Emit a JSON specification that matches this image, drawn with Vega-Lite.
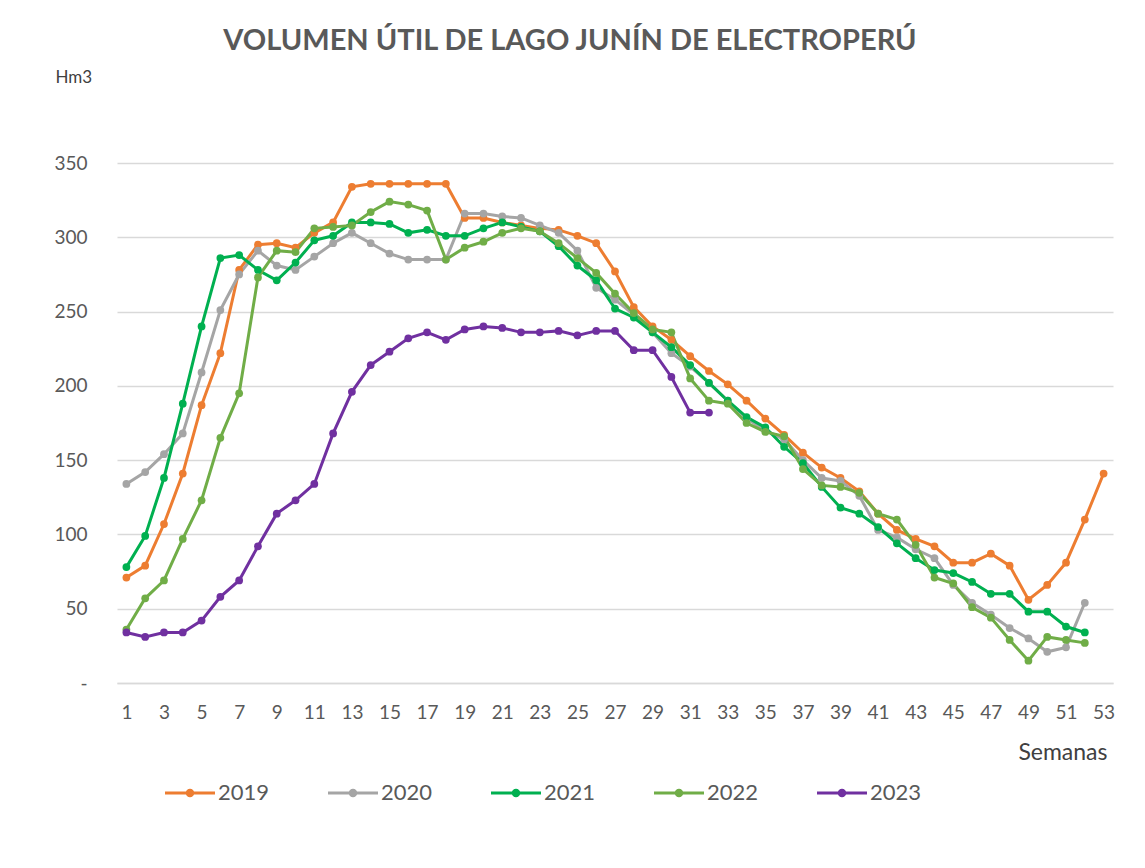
{
  "$schema": "https://vega.github.io/schema/vega-lite/v6.json",
  "width": 996,
  "height": 520,
  "autosize": {"type": "none"},
  "padding": {"left": 117, "top": 163, "right": 32, "bottom": 185},
  "background": "#ffffff",
  "title": {
    "text": "VOLUMEN  ÚTIL DE LAGO JUNÍN DE ELECTROPERÚ",
    "font": "Lato",
    "fontSize": 29,
    "fontWeight": "bold",
    "color": "#595959",
    "anchor": "middle",
    "frame": "group",
    "offset": 12,
    "dx": -45
  },
  "data": {
    "values": [
      {"w": 1, "2019": 71, "2020": 134, "2021": 78, "2022": 36, "2023": 34},
      {"w": 2, "2019": 79, "2020": 142, "2021": 99, "2022": 57, "2023": 31},
      {"w": 3, "2019": 107, "2020": 154, "2021": 138, "2022": 69, "2023": 34},
      {"w": 4, "2019": 141, "2020": 168, "2021": 188, "2022": 97, "2023": 34},
      {"w": 5, "2019": 187, "2020": 209, "2021": 240, "2022": 123, "2023": 42},
      {"w": 6, "2019": 222, "2020": 251, "2021": 286, "2022": 165, "2023": 58},
      {"w": 7, "2019": 278, "2020": 275, "2021": 288, "2022": 195, "2023": 69},
      {"w": 8, "2019": 295, "2020": 291, "2021": 278, "2022": 273, "2023": 92},
      {"w": 9, "2019": 296, "2020": 281, "2021": 271, "2022": 291, "2023": 114},
      {"w": 10, "2019": 293, "2020": 278, "2021": 283, "2022": 290, "2023": 123},
      {"w": 11, "2019": 303, "2020": 287, "2021": 298, "2022": 306, "2023": 134},
      {"w": 12, "2019": 310, "2020": 296, "2021": 301, "2022": 307, "2023": 168},
      {"w": 13, "2019": 334, "2020": 303, "2021": 310, "2022": 308, "2023": 196},
      {"w": 14, "2019": 336, "2020": 296, "2021": 310, "2022": 317, "2023": 214},
      {"w": 15, "2019": 336, "2020": 289, "2021": 309, "2022": 324, "2023": 223},
      {"w": 16, "2019": 336, "2020": 285, "2021": 303, "2022": 322, "2023": 232},
      {"w": 17, "2019": 336, "2020": 285, "2021": 305, "2022": 318, "2023": 236},
      {"w": 18, "2019": 336, "2020": 285, "2021": 301, "2022": 285, "2023": 231},
      {"w": 19, "2019": 313, "2020": 316, "2021": 301, "2022": 293, "2023": 238},
      {"w": 20, "2019": 313, "2020": 316, "2021": 306, "2022": 297, "2023": 240},
      {"w": 21, "2019": 310, "2020": 314, "2021": 310, "2022": 303, "2023": 239},
      {"w": 22, "2019": 308, "2020": 313, "2021": 307, "2022": 306, "2023": 236},
      {"w": 23, "2019": 306, "2020": 308, "2021": 304, "2022": 304, "2023": 236},
      {"w": 24, "2019": 305, "2020": 303, "2021": 294, "2022": 296, "2023": 237},
      {"w": 25, "2019": 301, "2020": 291, "2021": 281, "2022": 286, "2023": 234},
      {"w": 26, "2019": 296, "2020": 266, "2021": 271, "2022": 276, "2023": 237},
      {"w": 27, "2019": 277, "2020": 258, "2021": 252, "2022": 262, "2023": 237},
      {"w": 28, "2019": 253, "2020": 248, "2021": 246, "2022": 249, "2023": 224},
      {"w": 29, "2019": 240, "2020": 236, "2021": 236, "2022": 238, "2023": 224},
      {"w": 30, "2019": 231, "2020": 222, "2021": 226, "2022": 236, "2023": 206},
      {"w": 31, "2019": 220, "2020": 213, "2021": 214, "2022": 205, "2023": 182},
      {"w": 32, "2019": 210, "2020": 202, "2021": 202, "2022": 190, "2023": 182},
      {"w": 33, "2019": 201, "2020": 190, "2021": 190, "2022": 188},
      {"w": 34, "2019": 190, "2020": 178, "2021": 179, "2022": 175},
      {"w": 35, "2019": 178, "2020": 170, "2021": 172, "2022": 169},
      {"w": 36, "2019": 167, "2020": 164, "2021": 159, "2022": 166},
      {"w": 37, "2019": 155, "2020": 150, "2021": 148, "2022": 144},
      {"w": 38, "2019": 145, "2020": 138, "2021": 132, "2022": 133},
      {"w": 39, "2019": 138, "2020": 136, "2021": 118, "2022": 132},
      {"w": 40, "2019": 129, "2020": 126, "2021": 114, "2022": 128},
      {"w": 41, "2019": 114, "2020": 103, "2021": 105, "2022": 114},
      {"w": 42, "2019": 103, "2020": 98, "2021": 94, "2022": 110},
      {"w": 43, "2019": 97, "2020": 90, "2021": 84, "2022": 93},
      {"w": 44, "2019": 92, "2020": 84, "2021": 76, "2022": 71},
      {"w": 45, "2019": 81, "2020": 66, "2021": 74, "2022": 67},
      {"w": 46, "2019": 81, "2020": 54, "2021": 68, "2022": 51},
      {"w": 47, "2019": 87, "2020": 46, "2021": 60, "2022": 44},
      {"w": 48, "2019": 79, "2020": 37, "2021": 60, "2022": 29},
      {"w": 49, "2019": 56, "2020": 30, "2021": 48, "2022": 15},
      {"w": 50, "2019": 66, "2020": 21, "2021": 48, "2022": 31},
      {"w": 51, "2019": 81, "2020": 24, "2021": 38, "2022": 29},
      {"w": 52, "2019": 110, "2020": 54, "2021": 34, "2022": 27},
      {"w": 53, "2019": 141}
    ]
  },
  "transform": [
    {"fold": ["2019", "2020", "2021", "2022", "2023"], "as": ["year", "v"]},
    {"filter": "isValid(datum.v)"}
  ],
  "mark": {
    "type": "line",
    "strokeWidth": 3,
    "point": {"filled": true, "size": 60}
  },
  "encoding": {
    "x": {
      "field": "w",
      "type": "quantitative",
      "scale": {"domain": [0.5, 53.5], "nice": false, "zero": false},
      "axis": {
        "title": "Semanas",
        "titleFont": "Lato",
        "titleFontSize": 23,
        "titleFontWeight": "normal",
        "titleColor": "#404040",
        "titleAlign": "right",
        "titleBaseline": "middle",
        "titleAnchor": null,
        "titleX": 990,
        "titleY": 69,
        "values": [1,3,5,7,9,11,13,15,17,19,21,23,25,27,29,31,33,35,37,39,41,43,45,47,49,51,53],
        "labelFont": "Lato",
        "labelFontSize": 19,
        "labelColor": "#595959",
        "labelPadding": 20,
        "labelOverlap": false,
        "labelFlush": false,
        "ticks": false,
        "grid": false,
        "domainColor": "#d9d9d9",
        "domainWidth": 1.5
      }
    },
    "y": {
      "field": "v",
      "type": "quantitative",
      "scale": {"domain": [0, 350], "nice": false},
      "axis": {
        "title": "Hm3",
        "titleFont": "Lato",
        "titleFontSize": 17,
        "titleFontWeight": "normal",
        "titleColor": "#404040",
        "titleAngle": 0,
        "titleAlign": "left",
        "titleBaseline": "middle",
        "titleAnchor": null,
        "titleX": -62,
        "titleY": -86,
        "values": [0, 50, 100, 150, 200, 250, 300, 350],
        "labelExpr": "datum.value == 0 ? '-' : datum.label",
        "labelFont": "Lato",
        "labelFontSize": 19,
        "labelColor": "#595959",
        "labelPadding": 30,
        "ticks": false,
        "domain": false,
        "gridColor": "#d9d9d9",
        "gridWidth": 1.5
      }
    },
    "color": {
      "field": "year",
      "type": "nominal",
      "scale": {
        "domain": ["2019", "2020", "2021", "2022", "2023"],
        "range": ["#ED7D31", "#A5A5A5", "#00B050", "#70AD47", "#7030A0"]
      },
      "legend": {
        "title": null,
        "orient": "none",
        "direction": "horizontal",
        "columns": 5,
        "legendX": 48,
        "legendY": 605,
        "symbolType": "M-1,-0.06L1,-0.06L1,0.06L-1,0.06Z M0.17,0A0.17,0.17,0,1,1,-0.17,0A0.17,0.17,0,1,1,0.17,0Z",
        "symbolSize": 2500,
        "symbolStrokeWidth": 0,
        "labelFont": "Lato",
        "labelFontSize": 22,
        "labelColor": "#595959",
        "labelOffset": 3,
        "columnPadding": 58,
        "encode": {
          "symbols": {"update": {"fill": {"scale": "color", "field": "value"}, "opacity": {"value": 1}}}
        }
      }
    }
  },
  "config": {
    "view": {"stroke": null}
  }
}
